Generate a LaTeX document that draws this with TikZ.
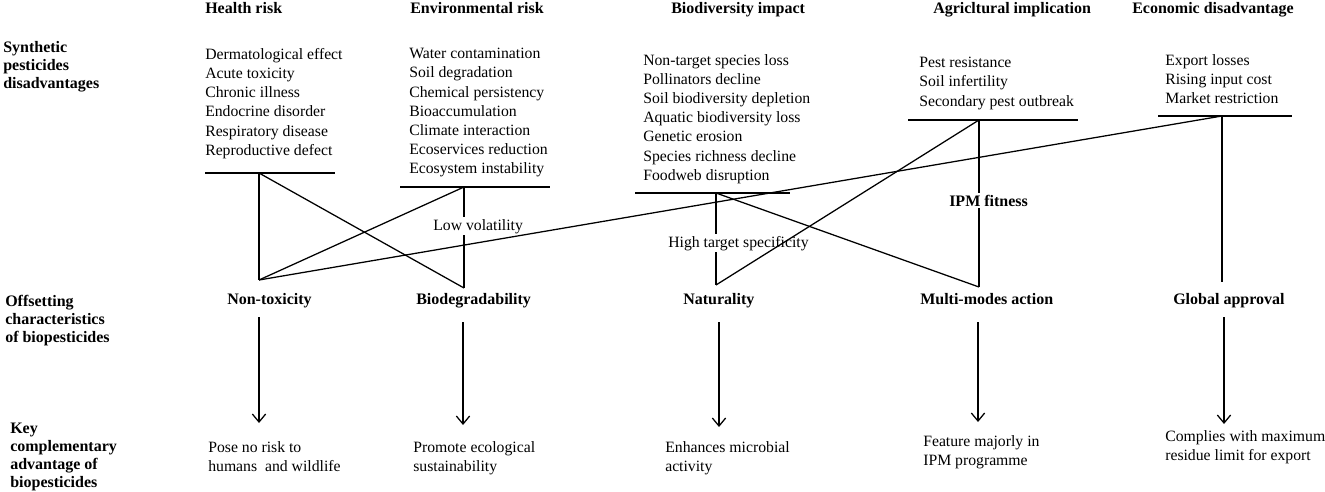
\documentclass[tikz,border=0pt]{standalone}
\usepackage{fontspec}
\setmainfont{Liberation Serif}
\usetikzlibrary{arrows.meta}
\tikzset{
  ln/.style={line width=0.95pt, black},
  lst/.style={anchor=north west, inner sep=0pt, align=left, font=\fontsize{11.8}{14.4}\selectfont},
  hd/.style={anchor=base west, inner sep=0pt, font=\fontsize{12}{14}\selectfont\bfseries},
  side/.style={anchor=north west, inner sep=0pt, align=left, font=\fontsize{12}{13.5}\selectfont\bfseries},
  mid/.style={anchor=base west, inner sep=0pt, font=\fontsize{12}{14}\selectfont\bfseries},
  lbl/.style={anchor=base west, inner sep=1.5pt, fill=white, font=\fontsize{11.8}{14}\selectfont},
  lblb/.style={lbl, font=\fontsize{12}{14}\selectfont\bfseries},
  arr/.style={ln, -{Straight Barb[length=6pt,width=10pt]}}
}
\begin{document}
\begin{tikzpicture}[x=0.75pt,y=-0.75pt]
\useasboundingbox (0,0) rectangle (1325,492);

% side labels
\node[side] (sSyn) at (3,41) {Synthetic\\pesticides\\disadvantages};
\node[side] (sOff) at (5,295) {Offsetting\\characteristics\\of biopesticides};
\node[side] (sKey) at (10,423) {Key\\complementary\\advantage of\\biopesticides};

% headers
\node[hd] (hH) at (205,14) {Health risk};
\node[hd] (hE) at (410,14) {Environmental risk};
\node[hd] (hB) at (671,14) {Biodiversity impact};
\node[hd] (hA) at (933,14) {Agricltural implication};
\node[hd] (hC) at (1132,14) {Economic disadvantage};

% lists
\node[lst] (lH) at (205,48) {Dermatological effect\\Acute toxicity\\Chronic illness\\Endocrine disorder\\Respiratory disease\\Reproductive defect};
\node[lst] (lE) at (409,48) {Water contamination\\Soil degradation\\Chemical persistency\\Bioaccumulation\\Climate interaction\\Ecoservices reduction\\Ecosystem instability};
\node[lst] (lB) at (643,54) {Non-target species loss\\Pollinators decline\\Soil biodiversity depletion\\Aquatic biodiversity loss\\Genetic erosion\\Species richness decline\\Foodweb disruption};
\node[lst] (lA) at (919,57) {Pest resistance\\Soil infertility\\Secondary pest outbreak};
\node[lst] (lC) at (1165,54) {Export losses\\Rising input cost\\Market restriction};

% horizontal bars and junctions
\coordinate (hHl) at (205,173); \coordinate (hHr) at (335,173); \coordinate (jH) at (259,173);
\coordinate (hEl) at (400,187); \coordinate (hEr) at (550,187); \coordinate (jE) at (464,187);
\coordinate (hBl) at (635,193); \coordinate (hBr) at (790,193); \coordinate (jB) at (716,193);
\coordinate (hAl) at (908,120); \coordinate (hAr) at (1078,120); \coordinate (jA) at (979,120);
\coordinate (hCl) at (1158,116); \coordinate (hCr) at (1292,116); \coordinate (jC) at (1222,116);
\draw[ln] (hHl) -- (hHr);
\draw[ln] (hEl) -- (hEr);
\draw[ln] (hBl) -- (hBr);
\draw[ln] (hAl) -- (hAr);
\draw[ln] (hCl) -- (hCr);

% vertices above the middle row
\coordinate (vNT) at (259,280);
\coordinate (vBD) at (464,288);
\coordinate (vNA) at (716,285);
\coordinate (vMM) at (979,287);
\coordinate (vGA) at (1222,282);

% vertical connectors
\draw[ln] (jH) -- (vNT);
\draw[ln] (jE) -- (vBD);
\draw[ln] (jB) -- (vNA);
\draw[ln] (jA) -- (vMM);
\draw[ln] (jC) -- (vGA);

% in-line labels
\node[lbl] (tLV) at (431,230) {Low volatility};
\node[lbl] (tHT) at (666,247) {High target specificity};
\node[lblb] (tIPM) at (947,206) {IPM fitness};

% diagonal connectors
\draw[ln] (jH) -- (vBD);
\draw[ln] (jE) -- (vNT);
\draw[ln] (vNT) -- (jC);
\draw[ln] (jB) -- (vMM);
\draw[ln] (jA) -- (vNA);

% middle row
\node[mid] (mNT) at (227,304) {Non-toxicity};
\node[mid] (mBD) at (416,304) {Biodegradability};
\node[mid] (mNA) at (683,304) {Naturality};
\node[mid] (mMM) at (920,304) {Multi-modes action};
\node[mid] (mGA) at (1173,304) {Global approval};

% arrows
\coordinate (a1s) at (259,317); \coordinate (a1e) at (259,423);
\coordinate (a2s) at (463,322); \coordinate (a2e) at (463,425);
\coordinate (a3s) at (719,322); \coordinate (a3e) at (719,427);
\coordinate (a4s) at (978,322); \coordinate (a4e) at (978,422);
\coordinate (a5s) at (1224,317); \coordinate (a5e) at (1224,424);
\draw[arr] (a1s) -- (a1e);
\draw[arr] (a2s) -- (a2e);
\draw[arr] (a3s) -- (a3e);
\draw[arr] (a4s) -- (a4e);
\draw[arr] (a5s) -- (a5e);

% bottom row
\node[lst] (bNT) at (208,441) {Pose no risk to\\humans~ and wildlife};
\node[lst] (bBD) at (413,441) {Promote ecological\\sustainability};
\node[lst] (bNA) at (665,441) {Enhances microbial\\activity};
\node[lst] (bMM) at (923,435) {Feature majorly in\\IPM programme};
\node[lst] (bGA) at (1165,430) {Complies with maximum\\residue limit for export};
\end{tikzpicture}
\end{document}
